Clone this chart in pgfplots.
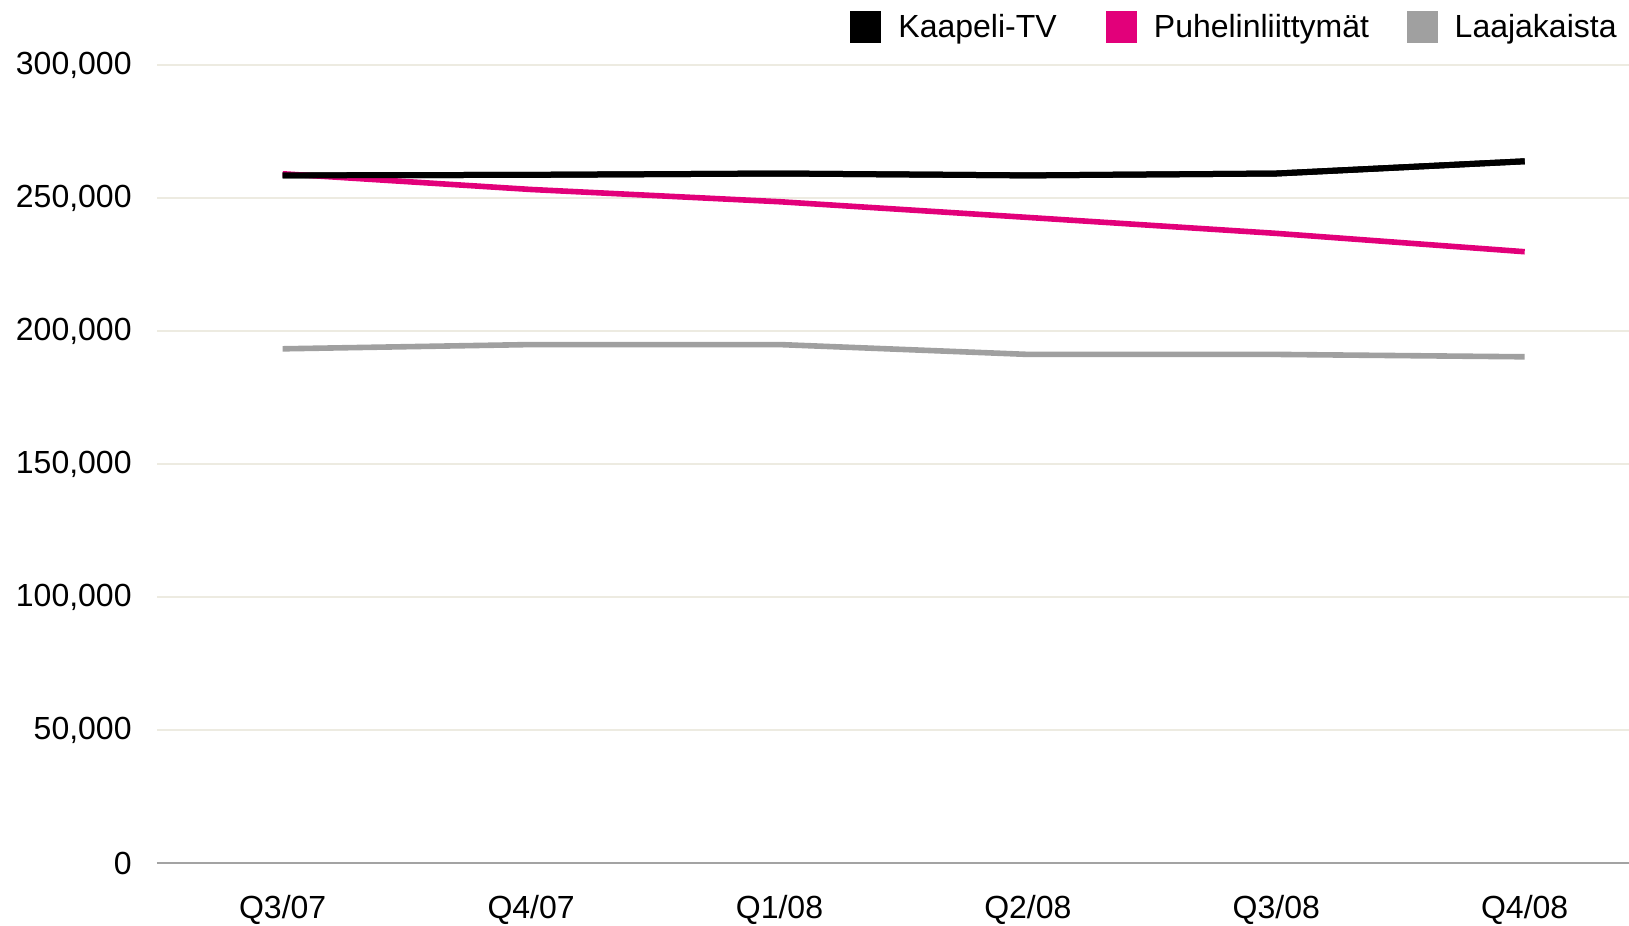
\documentclass[border=0pt]{standalone}
\usepackage{fontspec}
\setmainfont{Liberation Sans}
\usepackage{pgfplots}
\pgfplotsset{compat=1.18}
\definecolor{magentaT}{HTML}{E2007A}
\definecolor{grayL}{HTML}{A0A0A0}
\definecolor{gridc}{HTML}{EDEBE1}
\definecolor{axisgray}{HTML}{A3A3A3}
\begin{document}
\begin{tikzpicture}
\begin{axis}[
  name=ax,
  scale only axis,
  width=736pt, height=399pt,
  xmin=-0.506, xmax=5.42,
  ymin=0, ymax=300000,
  ytick={0,50000,100000,150000,200000,250000,300000},
  yticklabels={0,{50,000},{100,000},{150,000},{200,000},{250,000},{300,000}},
  xtick={0,1,2,3,4,5},
  xticklabels={Q3/07,Q4/07,Q1/08,Q2/08,Q3/08,Q4/08},
  scaled y ticks=false,
  tick label style={font=\fontsize{16}{19}\selectfont, inner sep=0pt},
  yticklabel style={anchor=east, xshift=-12.5pt},
  xticklabel style={anchor=north, yshift=-16pt},
  major tick length=0pt,
  axis lines*=left,
  y axis line style={draw=none},
  x axis line style={draw=axisgray, line width=1.2pt},
  ymajorgrids,
  grid style={gridc, line width=0.9pt},
  clip=false,
  legend columns=-1,
  legend style={at={(1,1)}, anchor=east, xshift=-6pt, yshift=19pt,
    draw=none, fill=none, inner sep=0pt,
    font=\fontsize{16}{19}\selectfont,
    nodes={inner sep=0pt},
    /tikz/every odd column/.style={column sep=8.5pt},
    /tikz/every even column/.style={column sep=24.5pt}},
  legend image code/.code={\fill[#1, draw=none] (0pt,-7.8pt) rectangle (15.6pt,7.8pt);},
  every axis plot/.append style={line width=2.8pt, line join=round},
]
\addplot[color=black, mark=none, line width=3pt] coordinates {(0,258500) (1,258700) (2,259200) (3,258500) (4,259200) (5,263800)};
\addlegendentry{Kaapeli-TV}
\addplot[color=magentaT, mark=none] coordinates {(0,259100) (1,253200) (2,248600) (3,242700) (4,236700) (5,229800)};
\addlegendentry{Puhelinliittymät\hspace*{-5.8pt}}
\addplot[color=grayL, mark=none] coordinates {(0,193300) (1,194900) (2,194900) (3,191200) (4,191200) (5,190300)};
\addlegendentry{Laajakaista}
\addplot[color=black, mark=none, line width=3pt, forget plot] coordinates {(0,258500) (1,258700) (2,259200) (3,258500) (4,259200) (5,263800)};
\end{axis}
\pgfresetboundingbox
\path ([xshift=-78.5pt,yshift=-31.5pt]ax.south west) rectangle ([yshift=32.5pt]ax.north east);
\end{tikzpicture}
\end{document}
